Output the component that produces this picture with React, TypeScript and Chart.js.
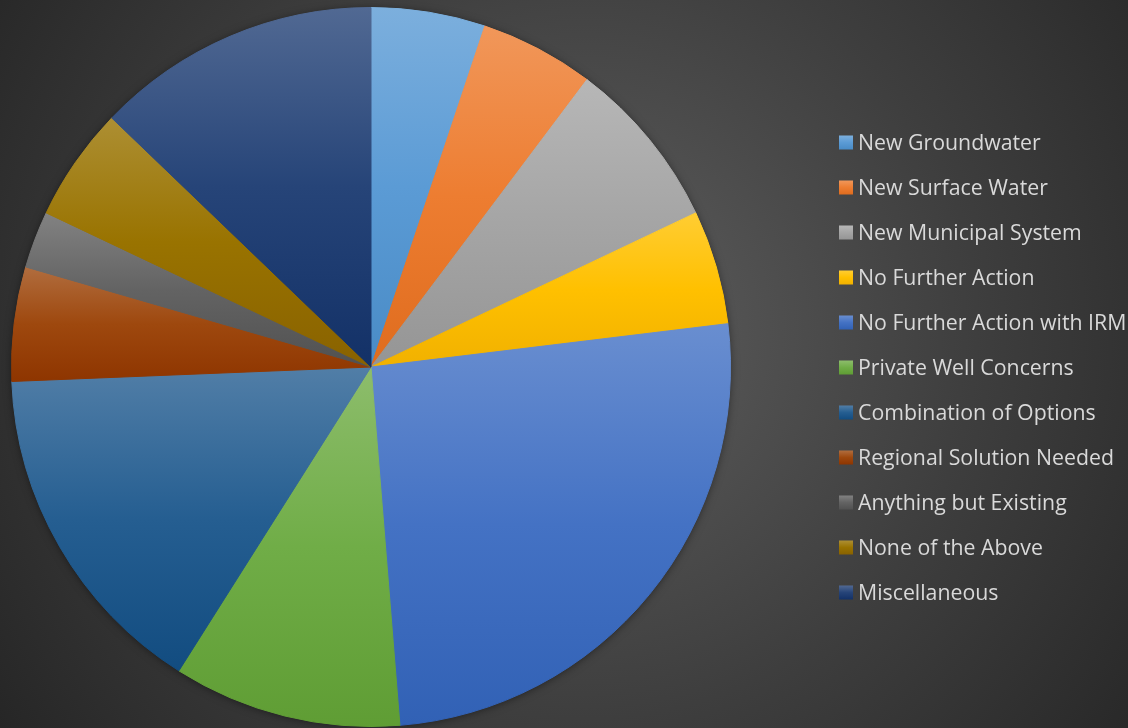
import React, { useEffect, useRef } from "react";
import { Chart, registerables } from "chart.js";

Chart.register(...registerables);

const categories = [
  "New Groundwater",
  "New Surface Water",
  "New Municipal System",
  "No Further Action",
  "No Further Action with IRM",
  "Private Well Concerns",
  "Combination of Options",
  "Regional Solution Needed",
  "Anything but Existing",
  "None of the Above",
  "Miscellaneous",
];
const responses = [2, 2, 3, 2, 10, 4, 6, 2, 1, 2, 5];
const sliceColors = [
  "#5B9BD5",
  "#ED7D31",
  "#A5A5A5",
  "#FFC000",
  "#4472C4",
  "#70AD47",
  "#255E91",
  "#9E480E",
  "#636363",
  "#997300",
  "#264478",
];

function hexToRgb(h: string): number[] {
  const v = parseInt(h.slice(1), 16);
  return [(v >> 16) & 255, (v >> 8) & 255, v & 255];
}
function rgbStr(c: number[]): string {
  return `rgb(${c.map((x) => Math.round(Math.max(0, Math.min(255, x)))).join(",")})`;
}
function tint(h: string, t: number): string {
  return rgbStr(hexToRgb(h).map((x) => x + (255 - x) * t));
}
function deepen(h: string, s: number, t: number): string {
  return rgbStr(
    hexToRgb(h).map((x) => {
      const y = x * s;
      return y - (255 - y) * t;
    })
  );
}
function makeGradient(ctx: CanvasRenderingContext2D, base: string, y0: number, y1: number) {
  const g = ctx.createLinearGradient(0, y0, 0, y1);
  g.addColorStop(0, tint(base, 0.2));
  g.addColorStop(0.5, base);
  g.addColorStop(1, deepen(base, 0.95, 0.08));
  return g;
}

function sliceFill(c: any) {
  const chart = c.chart;
  const i = c.dataIndex;
  const base = sliceColors[i % sliceColors.length];
  const area = chart.chartArea;
  if (!area || i === undefined) return base;
  const cy = (area.top + area.bottom) / 2;
  const r = Math.min(area.right - area.left, area.bottom - area.top) / 2;
  const total = responses.reduce((a, b) => a + b, 0);
  let cum = 0;
  for (let k = 0; k < i; k++) cum += responses[k];
  const a0 = -Math.PI / 2 + (2 * Math.PI * cum) / total;
  const a1 = a0 + (2 * Math.PI * responses[i]) / total;
  const ys = [cy, cy + r * Math.sin(a0), cy + r * Math.sin(a1)];
  for (let k = -2; k <= 2; k++) {
    const bottom = Math.PI / 2 + 2 * Math.PI * k;
    const top = -Math.PI / 2 + 2 * Math.PI * k;
    if (bottom > a0 && bottom < a1) ys.push(cy + r);
    if (top > a0 && top < a1) ys.push(cy - r);
  }
  const y0 = Math.min(...ys);
  const y1 = Math.max(...ys);
  return makeGradient(chart.ctx, base, y0, y1 + 0.001);
}

const pieShadow = {
  id: "pieShadow",
  beforeDatasetsDraw(chart: any) {
    const arc = chart.getDatasetMeta(0).data[0];
    if (!arc) return;
    const { x, y, outerRadius } = arc.getProps(["x", "y", "outerRadius"], true);
    const ctx = chart.ctx;
    ctx.save();
    ctx.shadowColor = "rgba(0,0,0,0.55)";
    ctx.shadowBlur = 10;
    ctx.shadowOffsetY = 1;
    ctx.fillStyle = "#3a3a3a";
    ctx.beginPath();
    ctx.arc(x, y, outerRadius - 1, 0, Math.PI * 2);
    ctx.fill();
    ctx.restore();
  },
};

const sideLegend = {
  id: "sideLegend",
  afterDraw(chart: any) {
    const { ctx, chartArea } = chart;
    const cy = (chartArea.top + chartArea.bottom) / 2 + 0.5;
    const x = chartArea.right + 108;
    ctx.save();
    ctx.font = "21.3px 'Open Sans'";
    ctx.textBaseline = "alphabetic";
    ctx.textAlign = "left";
    categories.forEach((label, i) => {
      const y = cy + (i - (categories.length - 1) / 2) * 45;
      ctx.fillStyle = makeGradient(ctx, sliceColors[i], y - 7, y + 7);
      ctx.fillRect(x, y - 7, 14, 14);
      ctx.fillStyle = "#d9d9d9";
      ctx.fillText(label, x + 19, y + 7);
    });
    ctx.restore();
  },
};

export default function App() {
  const canvasRef = useRef<HTMLCanvasElement | null>(null);

  useEffect(() => {
    if (!canvasRef.current) return;
    const chart = new Chart(canvasRef.current, {
      type: "pie",
      data: {
        labels: categories,
        datasets: [
          {
            data: responses,
            backgroundColor: sliceFill as any,
            borderColor: sliceFill as any,
            borderWidth: 1,
          },
        ],
      },
      options: {
        animation: false,
        responsive: true,
        maintainAspectRatio: false,
        layout: { padding: { left: 11, right: 397, top: 7, bottom: 1 } },
        plugins: {
          legend: { display: false },
          tooltip: { enabled: false },
        },
      },
      plugins: [pieShadow, sideLegend],
    });
    return () => chart.destroy();
  }, []);

  return (
    <div
      style={{
        position: "fixed",
        left: 0,
        top: 0,
        width: 1128,
        height: 728,
        background:
          "radial-gradient(circle farthest-corner at 52% 45%, #5e5e5e 0%, #3e3e3e 55%, #262626 100%)",
      }}
    >
      <canvas ref={canvasRef} />
    </div>
  );
}
